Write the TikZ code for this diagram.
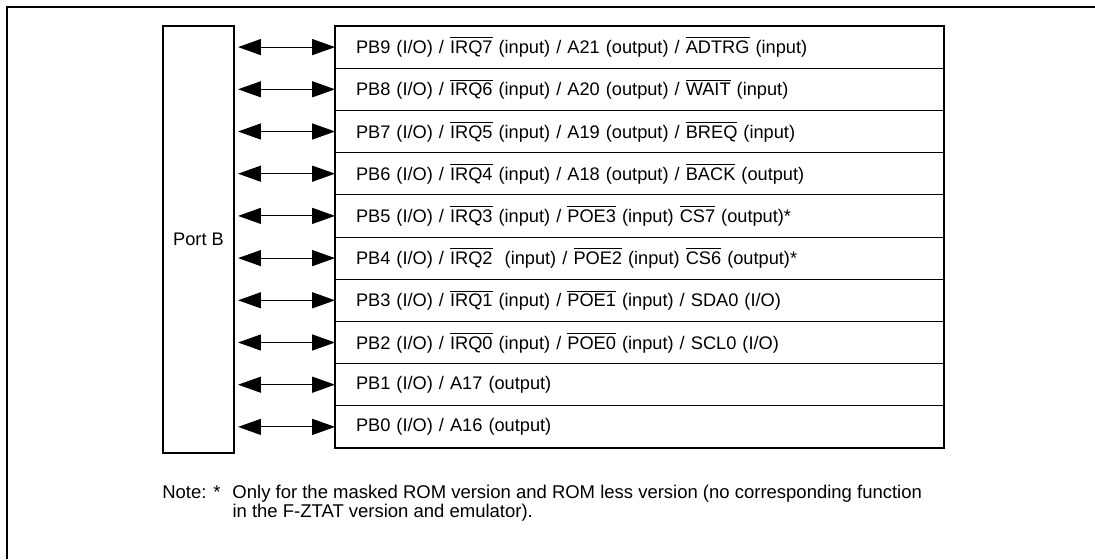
\documentclass[tikz,border=0pt]{standalone}
\usepackage{fontspec}
\setmainfont{Liberation Sans}
\usepackage{tikz}
\usetikzlibrary{arrows.meta,positioning}

\newcommand{\ovl}[1]{$\overline{\mbox{\rule{0pt}{0.77em}#1}}$}

\begin{document}
\begin{tikzpicture}[
  font=\fontsize{12.95}{15.5}\selectfont,
  frame/.style={draw,line width=1.4pt},
  portbox/.style={draw,line width=1.3pt,minimum width=1.775cm,minimum height=10.675cm,inner sep=0pt},
  pinrow/.style={draw,line width=0.7pt,outer sep=0pt,minimum height=1.055cm,
    text width=14.175cm,inner xsep=0.525cm,inner ysep=0pt,align=left},
  tabframe/.style={draw,line width=1.3pt},
  bus/.style={draw,line width=0.7pt,{Triangle[length=5.7mm,width=4mm]}-{Triangle[length=5.7mm,width=4mm]},
    shorten <=0.08cm},
  note/.style={inner sep=0pt,font=\fontsize{13.15}{13.7}\selectfont},
]
\useasboundingbox (0,0) rectangle (27.375,-13.975);

% ---------- outer frame ----------
\draw[frame] (0.175,-13.975) -- (0.175,-0.175) -- (27.375,-0.175);

% ---------- port box ----------
\node[portbox] (portb) at (4.9625,-5.9875) {Port B};

% ---------- pin function table ----------
\node[pinrow] (r9) at (15.9875,-1.1775)
  {PB9 (I/O) / \ovl{IRQ7} (input) / A21 (output) / \ovl{ADTRG} (input)};
\node[pinrow,below=0pt of r9] (r8)
  {PB8 (I/O) / \ovl{IRQ6} (input) / A20 (output) / \ovl{WAIT} (input)};
\node[pinrow,below=0pt of r8] (r7)
  {PB7 (I/O) / \ovl{IRQ5} (input) / A19 (output) / \ovl{BREQ} (input)};
\node[pinrow,below=0pt of r7] (r6)
  {PB6 (I/O) / \ovl{IRQ4} (input) / A18 (output) / \ovl{BACK} (output)};
\node[pinrow,below=0pt of r6] (r5)
  {PB5 (I/O) / \ovl{IRQ3} (input) / \ovl{POE3} (input) \ovl{CS7} (output)*};
\node[pinrow,below=0pt of r5] (r4)
  {PB4 (I/O) / \ovl{IRQ2}\ \ (input) / \ovl{POE2} (input) \ovl{CS6} (output)*};
\node[pinrow,below=0pt of r4] (r3)
  {PB3 (I/O) / \ovl{IRQ1} (input) / \ovl{POE1} (input) / SDA0 (I/O)};
\node[pinrow,below=0pt of r3] (r2)
  {PB2 (I/O) / \ovl{IRQ0} (input) / \ovl{POE0} (input) / SCL0 (I/O)};
\node[pinrow,below=0pt of r2] (r1)
  {PB1 (I/O) / A17 (output)};
\node[pinrow,below=0pt of r1] (r0)
  {PB0 (I/O) / A16 (output)};

\draw[tabframe] (r9.north west) rectangle (r0.south east);

% ---------- bidirectional links ----------
\draw[bus] (portb.east |- r9.west) -- (r9.west);
\draw[bus] (portb.east |- r8.west) -- (r8.west);
\draw[bus] (portb.east |- r7.west) -- (r7.west);
\draw[bus] (portb.east |- r6.west) -- (r6.west);
\draw[bus] (portb.east |- r5.west) -- (r5.west);
\draw[bus] (portb.east |- r4.west) -- (r4.west);
\draw[bus] (portb.east |- r3.west) -- (r3.west);
\draw[bus] (portb.east |- r2.west) -- (r2.west);
\draw[bus] (portb.east |- r1.west) -- (r1.west);
\draw[bus] (portb.east |- r0.west) -- (r0.west);

% ---------- note ----------
\node[note,anchor=base west] (remark) at (4.05,-12.45)
  {\begin{tabular}[t]{@{}l@{\hspace{0.3cm}}l@{}}
   Note: * & Only for the masked ROM version and ROM less version (no corresponding function\\
           & in the F-ZTAT version and emulator).
   \end{tabular}};

\end{tikzpicture}
\end{document}
